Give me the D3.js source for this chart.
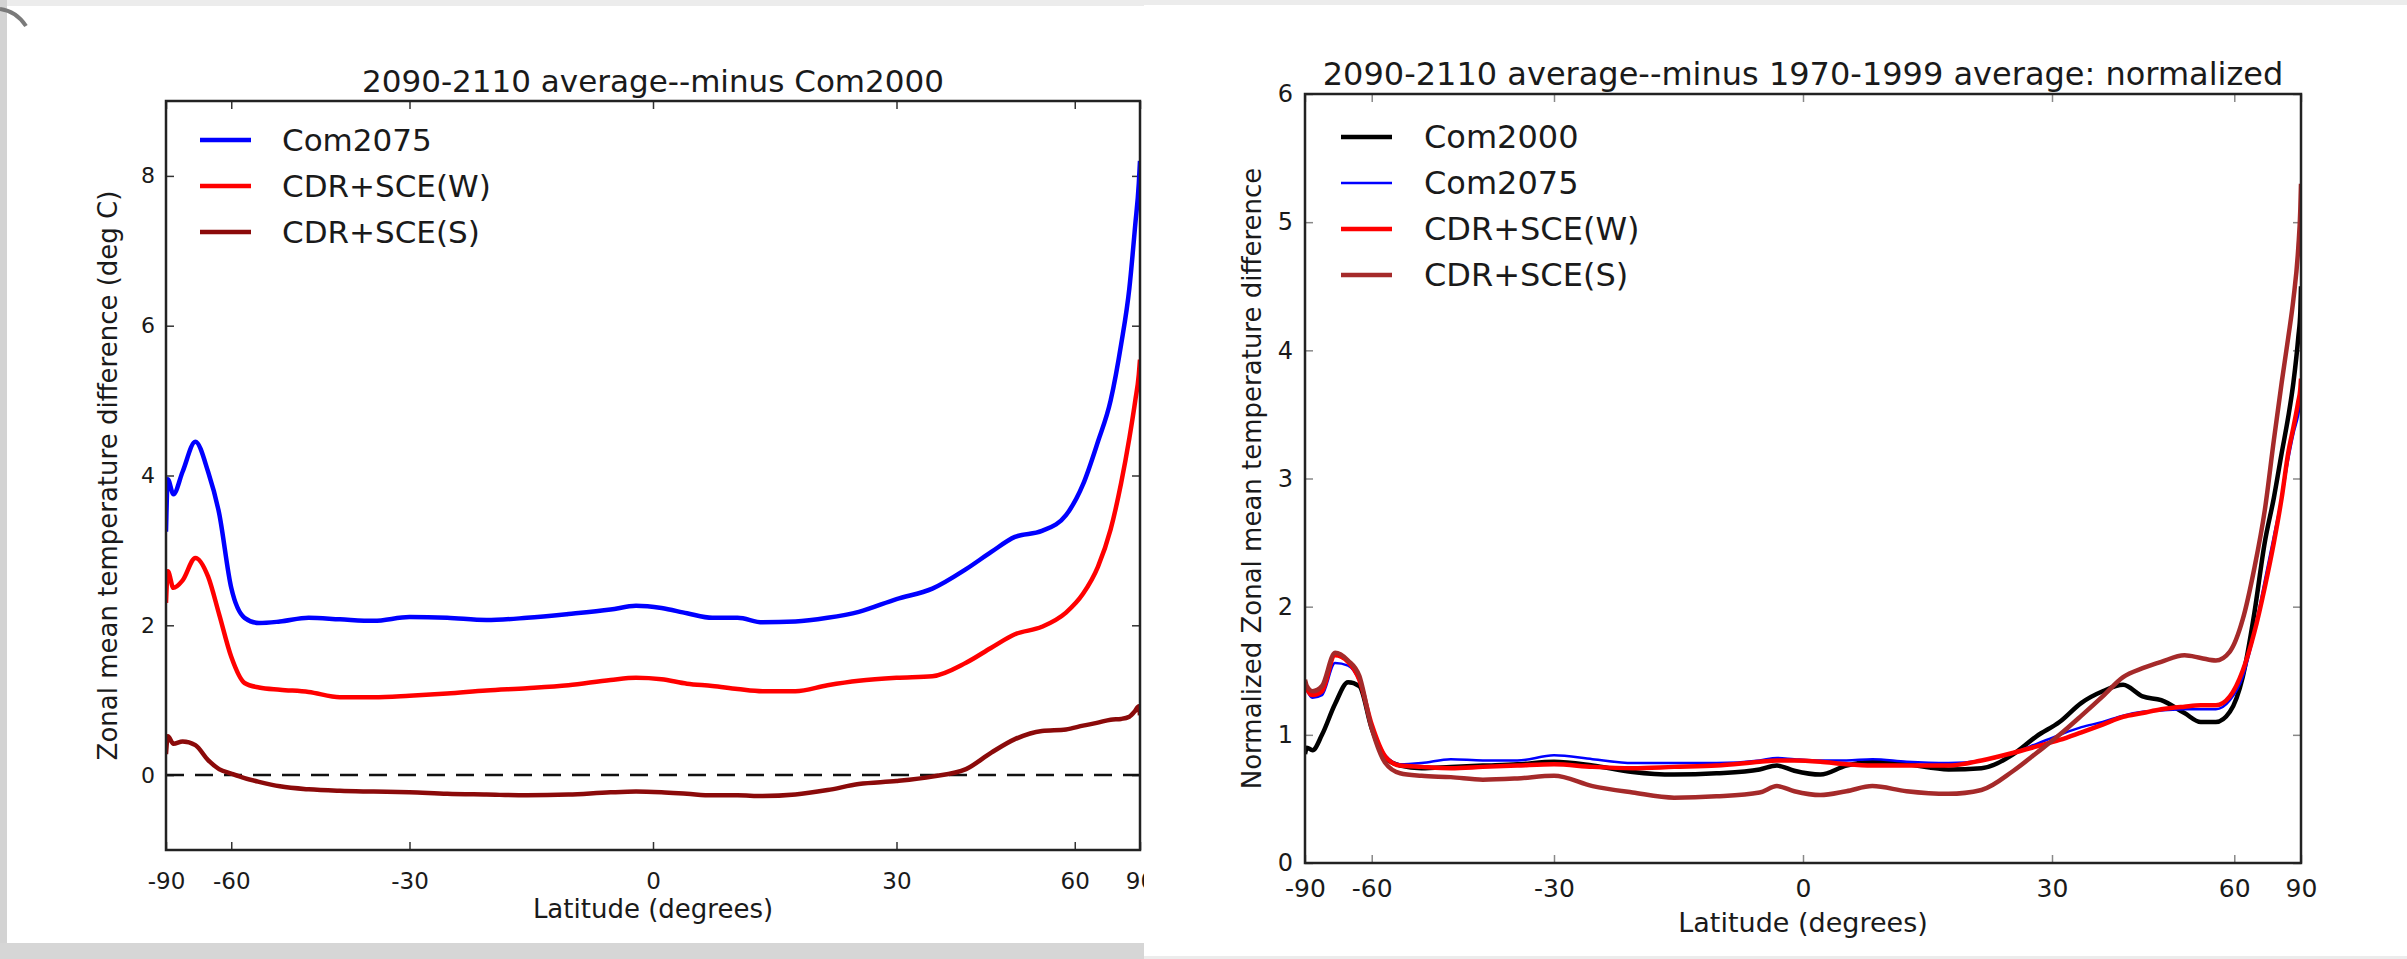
<!DOCTYPE html>
<html>
<head>
<meta charset="utf-8">
<script src="https://cdn.jsdelivr.net/npm/d3@7"></script>
<style>
  body { margin: 0; background: #efefef; }
  svg text { font-family: "DejaVu Sans", sans-serif; fill: #1a1a1a; }
</style>
</head>
<body>
<svg id="graph" width="2407" height="959"></svg>
<script>
// latitude ticks, shared by both panels (x axis is sine of latitude)
const latTicks = [-90, -60, -30, 0, 30, 60, 90]
const yTicksL = [0, 2, 4, 6, 8]
const yTicksR = [0, 1, 2, 3, 4, 5, 6]

// left panel: 2090-2110 average minus Com2000 (deg C)
const latL = [-90, -85, -80, -75, -70, -66, -63, -60, -57, -54, -50, -45, -40, -35, -30, -25, -20, -15, -10, -5,
  -2, 1, 4, 7, 10, 13, 17, 21, 25, 30, 35, 40, 44, 48, 53, 58, 62, 66, 70, 74, 78, 82, 86, 90]
const com2075L = [3.25, 3.95, 3.75, 4.05, 4.45, 4.05, 3.5, 2.5, 2.1, 2.03, 2.05, 2.1, 2.08, 2.06, 2.11, 2.1, 2.07, 2.1, 2.15, 2.21,
  2.26, 2.23, 2.16, 2.1, 2.1, 2.04, 2.05, 2.1, 2.18, 2.35, 2.49, 2.75, 2.98, 3.18, 3.26, 3.47, 3.88, 4.45, 5.0, 5.75, 6.5, 7.35, 7.9, 8.2]
const cdrWL = [2.3, 2.72, 2.5, 2.6, 2.9, 2.65, 2.15, 1.58, 1.23, 1.17, 1.14, 1.11, 1.04, 1.04, 1.06, 1.09, 1.13, 1.16, 1.2, 1.27,
  1.3, 1.28, 1.22, 1.19, 1.15, 1.12, 1.12, 1.2, 1.26, 1.3, 1.32, 1.5, 1.7, 1.88, 1.98, 2.17, 2.42, 2.78, 3.28, 3.9, 4.5, 5.0, 5.35, 5.55]
const cdrSL = [0.28, 0.52, 0.42, 0.45, 0.4, 0.2, 0.08, 0.02, -0.04, -0.09, -0.15, -0.19, -0.21, -0.22, -0.23, -0.25, -0.26, -0.27, -0.26, -0.23,
  -0.22, -0.23, -0.25, -0.27, -0.27, -0.28, -0.26, -0.2, -0.12, -0.08, -0.02, 0.08, 0.3, 0.48, 0.59, 0.61, 0.66, 0.7, 0.74, 0.75, 0.78, 0.86, 0.92, 0.8]

// right panel: 2090-2110 minus 1970-1999, normalized
const latR = [-90, -85, -80, -75, -70, -66, -63, -60, -57, -54, -50, -45, -40, -35, -30, -25, -20, -15, -10, -5,
  -3, -1, 2, 5, 8, 12, 17, 21, 25, 28, 31, 34, 37, 40, 43, 46, 50, 53, 56, 59, 62, 65, 68, 71, 74, 77, 80, 84, 87, 90]
const com2000R = [0.85, 0.9, 0.88, 1.0, 1.24, 1.41, 1.38, 1.05, 0.82, 0.76, 0.74, 0.75, 0.76, 0.77, 0.79, 0.76, 0.71, 0.69, 0.7, 0.73,
  0.76, 0.72, 0.69, 0.76, 0.79, 0.77, 0.73, 0.74, 0.85, 0.99, 1.1, 1.25, 1.34, 1.39, 1.3, 1.27, 1.17, 1.1, 1.1, 1.18,
  1.45, 1.95, 2.5, 2.85, 3.2, 3.48, 3.75, 4.1, 4.3, 4.5]
const com2075R = [1.39, 1.35, 1.29, 1.31, 1.56, 1.54, 1.42, 1.08, 0.84, 0.77, 0.78, 0.81, 0.8, 0.8, 0.84, 0.81, 0.78, 0.78, 0.78, 0.8,
  0.82, 0.81, 0.8, 0.8, 0.81, 0.79, 0.78, 0.8, 0.86, 0.93, 1.0, 1.06, 1.1, 1.15, 1.18, 1.19, 1.2, 1.2, 1.2, 1.27,
  1.45, 1.8, 2.2, 2.55, 2.85, 3.15, 3.35, 3.5, 3.6, 3.65]
const cdrWR = [1.41, 1.36, 1.31, 1.34, 1.62, 1.57, 1.43, 1.08, 0.83, 0.76, 0.75, 0.74, 0.75, 0.76, 0.77, 0.75, 0.74, 0.75, 0.76, 0.79,
  0.8, 0.8, 0.79, 0.77, 0.76, 0.76, 0.76, 0.8, 0.86, 0.91, 0.96, 1.02, 1.08, 1.14, 1.17, 1.2, 1.22, 1.23, 1.23, 1.3,
  1.5, 1.8, 2.15, 2.5, 2.85, 3.2, 3.4, 3.6, 3.7, 3.78]
const cdrSR = [1.43, 1.38, 1.34, 1.38, 1.64, 1.58, 1.46, 1.05, 0.78, 0.7, 0.68, 0.67, 0.65, 0.66, 0.68, 0.6, 0.55, 0.51, 0.52, 0.55,
  0.6, 0.56, 0.53, 0.56, 0.6, 0.56, 0.54, 0.57, 0.72, 0.86, 1.0, 1.15, 1.3, 1.45, 1.52, 1.57, 1.62, 1.6, 1.58, 1.65,
  1.9, 2.3, 2.75, 3.3, 3.75, 4.1, 4.4, 4.8, 5.1, 5.3]

let svg = d3.select('svg')
let sinDeg = d => Math.sin(d * Math.PI / 180)

// slide background bits
svg.append('rect').attr('x', 0).attr('y', 0).attr('width', 2407).attr('height', 959).attr('fill', '#ececec')
svg.append('rect').attr('x', 0).attr('y', 0).attr('width', 7).attr('height', 959).attr('fill', '#d3d3d3')
svg.append('rect').attr('x', 7).attr('y', 6).attr('width', 1137).attr('height', 937).attr('fill', '#fff')
svg.append('rect').attr('x', 0).attr('y', 943).attr('width', 1144).attr('height', 16).attr('fill', '#d6d6d6')
svg.append('path').attr('d', 'M0,9 Q16,11 26,26').attr('fill', 'none').attr('stroke', '#7a7a7a').attr('stroke-width', 4)

function drawPanel(cfg) {
  let g = svg.append('g')
  let x = d3.scaleLinear().domain([-1, 1]).range([cfg.left, cfg.right])
  let y = d3.scaleLinear().domain(cfg.yDomain).range([cfg.bottom, cfg.top])
  let w = cfg.right - cfg.left
  let h = cfg.bottom - cfg.top

  g.append('clipPath').attr('id', cfg.id + '-clip')
    .append('rect').attr('x', cfg.left).attr('y', cfg.top).attr('width', w).attr('height', h)

  let latFmt = v => String(Math.round(Math.asin(v) * 180 / Math.PI))

  let bottom = g.append('g').attr('transform', `translate(0,${cfg.bottom})`)
    .call(d3.axisBottom(x).tickValues(latTicks.map(sinDeg)).tickFormat(latFmt)
      .tickSizeInner(-8).tickSizeOuter(0).tickPadding(cfg.xPad))
  let top = g.append('g').attr('transform', `translate(0,${cfg.top})`)
    .call(d3.axisTop(x).tickValues(latTicks.map(sinDeg)).tickFormat('')
      .tickSizeInner(-8).tickSizeOuter(0))
  let left = g.append('g').attr('transform', `translate(${cfg.left},0)`)
    .call(d3.axisLeft(y).tickValues(cfg.yTicks).tickFormat(d3.format('d'))
      .tickSizeInner(-8).tickSizeOuter(0).tickPadding(cfg.yPad))
  let right = g.append('g').attr('transform', `translate(${cfg.right},0)`)
    .call(d3.axisRight(y).tickValues(cfg.yTicks).tickFormat('')
      .tickSizeInner(-8).tickSizeOuter(0))

  ;[bottom, top, left, right].forEach(a => {
    a.select('.domain').remove()
    a.selectAll('line').attr('stroke', cfg.tickColor).attr('stroke-width', 1.5)
  })
  bottom.selectAll('text').attr('font-size', cfg.xTickSize).attr('fill', '#1a1a1a')
  left.selectAll('text').attr('font-size', cfg.yTickSize).attr('fill', '#1a1a1a')

  if (cfg.zeroLine) {
    g.append('line')
      .attr('x1', cfg.left).attr('x2', cfg.right)
      .attr('y1', y(0)).attr('y2', y(0))
      .attr('stroke', '#111').attr('stroke-width', 2.5).attr('stroke-dasharray', '18,11')
  }

  let line = d3.line()
    .x(d => x(sinDeg(d[0])))
    .y(d => y(d[1]))
    .curve(d3.curveMonotoneX)

  cfg.series.forEach(s => {
    g.append('path')
      .datum(cfg.lat.map((l, i) => [l, s.values[i]]))
      .attr('clip-path', `url(#${cfg.id}-clip)`)
      .attr('fill', 'none')
      .attr('stroke', s.color)
      .attr('stroke-width', s.width)
      .attr('stroke-linejoin', 'round')
      .attr('d', line)
  })

  g.append('rect')
    .attr('x', cfg.left).attr('y', cfg.top).attr('width', w).attr('height', h)
    .attr('fill', 'none').attr('stroke', '#222').attr('stroke-width', 2.5)

  // legend
  cfg.series.forEach((s, i) => {
    let ly = cfg.legend.y + i * cfg.legend.step
    g.append('line')
      .attr('x1', cfg.legend.x).attr('x2', cfg.legend.x + 51)
      .attr('y1', ly).attr('y2', ly)
      .attr('stroke', s.color).attr('stroke-width', s.width)
    g.append('text')
      .attr('x', cfg.legend.textX).attr('y', ly + 11)
      .attr('font-size', cfg.legend.size)
      .text(s.name)
  })

  g.append('text')
    .attr('x', (cfg.left + cfg.right) / 2).attr('y', cfg.titleY)
    .attr('text-anchor', 'middle').attr('font-size', cfg.titleSize)
    .text(cfg.title)

  g.append('text')
    .attr('x', (cfg.left + cfg.right) / 2).attr('y', cfg.xLabelY)
    .attr('text-anchor', 'middle').attr('font-size', cfg.labelSize)
    .text('Latitude (degrees)')

  g.append('text')
    .attr('transform', `translate(${cfg.yLabelX},${(cfg.top + cfg.bottom) / 2}) rotate(-90)`)
    .attr('text-anchor', 'middle').attr('font-size', 26)
    .text(cfg.yLabel)
}

drawPanel({
  id: 'left', left: 166, right: 1140, top: 101, bottom: 850,
  yDomain: [-1, 9], yTicks: yTicksL, lat: latL,
  xPad: 23, yPad: 11, xTickSize: 23, yTickSize: 22, tickColor: '#333',
  zeroLine: true,
  series: [
    { name: 'Com2075', values: com2075L, color: '#0000ff', width: 4.5 },
    { name: 'CDR+SCE(W)', values: cdrWL, color: '#ff0000', width: 4.5 },
    { name: 'CDR+SCE(S)', values: cdrSL, color: '#8b0a0a', width: 4.5 }
  ],
  legend: { x: 200, y: 140, step: 46, textX: 282, size: 31 },
  title: '2090-2110 average--minus Com2000', titleY: 92, titleSize: 31,
  xLabelY: 918, labelSize: 26,
  yLabelX: 117, yLabel: 'Zonal mean temperature difference (deg C)'
})

// right slide image covers the cut-off edge of the left one
svg.append('rect').attr('x', 1144).attr('y', 5).attr('width', 1263).attr('height', 951).attr('fill', '#fff')

drawPanel({
  id: 'right', left: 1305, right: 2301, top: 94, bottom: 863,
  yDomain: [0, 6], yTicks: yTicksR, lat: latR,
  xPad: 16, yPad: 12, xTickSize: 25, yTickSize: 24, tickColor: '#888',
  zeroLine: false,
  series: [
    { name: 'Com2000', values: com2000R, color: '#000000', width: 4.5 },
    { name: 'Com2075', values: com2075R, color: '#0000ff', width: 2.5 },
    { name: 'CDR+SCE(W)', values: cdrWR, color: '#ff0000', width: 4.5 },
    { name: 'CDR+SCE(S)', values: cdrSR, color: '#a52a2a', width: 4.5 }
  ],
  legend: { x: 1341, y: 137, step: 46, textX: 1424, size: 32 },
  title: '2090-2110 average--minus 1970-1999 average: normalized', titleY: 85, titleSize: 32,
  xLabelY: 932, labelSize: 27,
  yLabelX: 1261, yLabel: 'Normalized Zonal mean temperature difference'
})
</script>
</body>
</html>
